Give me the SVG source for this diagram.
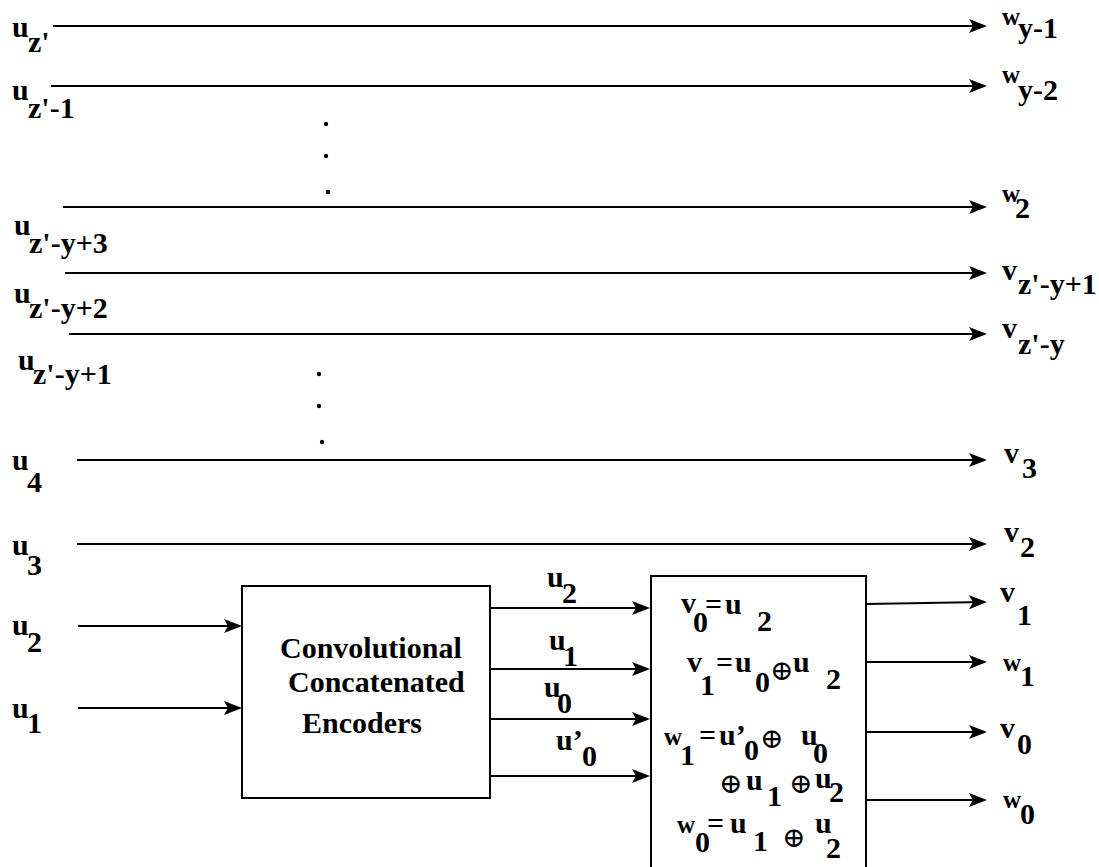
<svg xmlns="http://www.w3.org/2000/svg" width="1099" height="867" viewBox="0 0 1099 867">
<style>
  text { font-family: "Liberation Serif", "Times New Roman", "DejaVu Serif", serif; font-weight: bold; font-size: 30px; fill: #000; }
  .w { font-size: 25px; }
  .op { font-family: "DejaVu Serif", "DejaVu Sans", serif; font-weight: normal; font-size: 28px; }
  .ln { stroke: #000; stroke-width: 2; fill: none; }
  .box { stroke: #000; stroke-width: 2; fill: #fff; }
</style>
<defs>
  <marker id="ah" markerUnits="userSpaceOnUse" markerWidth="19" markerHeight="15" refX="15" refY="7" orient="auto">
    <path d="M0,0 L18,7 L0,14 L4,7 z" fill="#000"/>
  </marker>
</defs>
<rect width="1099" height="867" fill="#fff"/>

<g id="connectors">
  <line class="ln" x1="53" y1="26" x2="984" y2="26" marker-end="url(#ah)"/>
  <line class="ln" x1="51" y1="86" x2="984" y2="86" marker-end="url(#ah)"/>
  <line class="ln" x1="63" y1="207" x2="984" y2="207" marker-end="url(#ah)"/>
  <line class="ln" x1="65" y1="273" x2="984" y2="273" marker-end="url(#ah)"/>
  <line class="ln" x1="69" y1="334" x2="984" y2="334" marker-end="url(#ah)"/>
  <line class="ln" x1="77" y1="460" x2="984" y2="460" marker-end="url(#ah)"/>
  <line class="ln" x1="77" y1="544" x2="984" y2="544" marker-end="url(#ah)"/>
  <line class="ln" x1="78" y1="626" x2="239" y2="626" marker-end="url(#ah)"/>
  <line class="ln" x1="78" y1="708" x2="239" y2="708" marker-end="url(#ah)"/>
  <line class="ln" x1="490" y1="608" x2="647" y2="608" marker-end="url(#ah)"/>
  <line class="ln" x1="490" y1="669" x2="647" y2="669" marker-end="url(#ah)"/>
  <line class="ln" x1="490" y1="719" x2="647" y2="719" marker-end="url(#ah)"/>
  <line class="ln" x1="490" y1="776" x2="647" y2="776" marker-end="url(#ah)"/>
  <line class="ln" x1="866" y1="604" x2="984" y2="602" marker-end="url(#ah)"/>
  <line class="ln" x1="866" y1="662" x2="984" y2="662" marker-end="url(#ah)"/>
  <line class="ln" x1="866" y1="732" x2="984" y2="732" marker-end="url(#ah)"/>
  <line class="ln" x1="866" y1="800" x2="984" y2="800" marker-end="url(#ah)"/>
</g>

<g id="dots" fill="#000">
  <circle cx="326" cy="124" r="2.2"/>
  <circle cx="326" cy="156" r="2.2"/>
  <circle cx="328" cy="192" r="2.2"/>
  <circle cx="319" cy="374" r="2.2"/>
  <circle cx="319" cy="406" r="2.2"/>
  <circle cx="322" cy="442" r="2.2"/>
</g>

<g id="inputs">
  <text><tspan x="12" y="37">u</tspan><tspan x="28" y="52">z'</tspan></text>
  <text><tspan x="12" y="100">u</tspan><tspan x="28" y="118">z'-1</tspan></text>
  <text><tspan x="14" y="235">u</tspan><tspan x="29" y="253">z'-y+3</tspan></text>
  <text><tspan x="14" y="303">u</tspan><tspan x="29" y="318">z'-y+2</tspan></text>
  <text><tspan x="18" y="370">u</tspan><tspan x="33" y="384">z'-y+1</tspan></text>
  <text><tspan x="12" y="470">u</tspan><tspan x="27" y="492">4</tspan></text>
  <text><tspan x="12" y="555">u</tspan><tspan x="27" y="575">3</tspan></text>
  <text><tspan x="12" y="635">u</tspan><tspan x="27" y="652">2</tspan></text>
  <text><tspan x="12" y="718">u</tspan><tspan x="27" y="733">1</tspan></text>
</g>

<g id="outputs">
  <text><tspan class="w" x="1002" y="25">w</tspan><tspan x="1018" y="38">y-1</tspan></text>
  <text><tspan class="w" x="1002" y="83">w</tspan><tspan x="1018" y="100">y-2</tspan></text>
  <text><tspan class="w" x="1002" y="202">w</tspan><tspan x="1015" y="218">2</tspan></text>
  <text><tspan x="1002" y="280">v</tspan><tspan x="1018" y="294">z'-y+1</tspan></text>
  <text><tspan x="1002" y="338">v</tspan><tspan x="1018" y="354">z'-y</tspan></text>
  <text><tspan x="1004" y="463">v</tspan><tspan x="1022" y="478">3</tspan></text>
  <text><tspan x="1004" y="542">v</tspan><tspan x="1020" y="557">2</tspan></text>
  <text><tspan x="1000" y="602">v</tspan><tspan x="1017" y="625">1</tspan></text>
  <text><tspan class="w" x="1003" y="671">w</tspan><tspan x="1020" y="686">1</tspan></text>
  <text><tspan x="1000" y="738">v</tspan><tspan x="1017" y="754">0</tspan></text>
  <text><tspan class="w" x="1003" y="808">w</tspan><tspan x="1020" y="824">0</tspan></text>
</g>

<g id="encoder">
  <rect class="box" x="242" y="586" width="248" height="212"/>
  <text x="280" y="658">Convolutional</text>
  <text x="288" y="692">Concatenated</text>
  <text x="302" y="733">Encoders</text>
</g>

<g id="link-labels">
  <text><tspan x="547" y="587">u</tspan><tspan x="562" y="603">2</tspan></text>
  <text><tspan x="549" y="650">u</tspan><tspan x="563" y="666">1</tspan></text>
  <text><tspan x="544" y="697">u</tspan><tspan x="557" y="713">0</tspan></text>
  <text><tspan x="556" y="750">u’</tspan><tspan x="582" y="766">0</tspan></text>
</g>

<g id="mapper">
  <rect class="box" x="651" y="576" width="215" height="300"/>
  <text><tspan x="681" y="613">v</tspan><tspan x="693" y="632">0</tspan><tspan x="705" y="614">=</tspan><tspan x="725" y="614">u</tspan><tspan x="757" y="631">2</tspan></text>
  <text><tspan x="687" y="672">v</tspan><tspan x="700" y="695">1</tspan><tspan x="716" y="672">=</tspan><tspan x="735" y="672">u</tspan><tspan x="755" y="692">0</tspan><tspan class="op" x="770" y="680">⊕</tspan><tspan x="793" y="672">u</tspan><tspan x="826" y="689">2</tspan></text>
  <text><tspan class="w" x="664" y="745">w</tspan><tspan x="680" y="765">1</tspan><tspan x="699" y="745">=</tspan><tspan x="719" y="745">u’</tspan><tspan x="744" y="760">0</tspan><tspan class="op" x="760" y="748">⊕</tspan><tspan x="801" y="745">u</tspan><tspan x="813" y="763">0</tspan></text>
  <text><tspan class="op" x="719" y="793">⊕</tspan><tspan x="746" y="790">u</tspan><tspan x="767" y="806">1</tspan><tspan class="op" x="789" y="793">⊕</tspan><tspan x="815" y="788">u</tspan><tspan x="829" y="802">2</tspan></text>
  <text><tspan class="w" x="677" y="833">w</tspan><tspan x="695" y="852">0</tspan><tspan x="707" y="833">=</tspan><tspan x="730" y="833">u</tspan><tspan x="753" y="851">1</tspan><tspan class="op" x="782" y="847">⊕</tspan><tspan x="815" y="833">u</tspan><tspan x="826" y="858">2</tspan></text>
</g>
</svg>
